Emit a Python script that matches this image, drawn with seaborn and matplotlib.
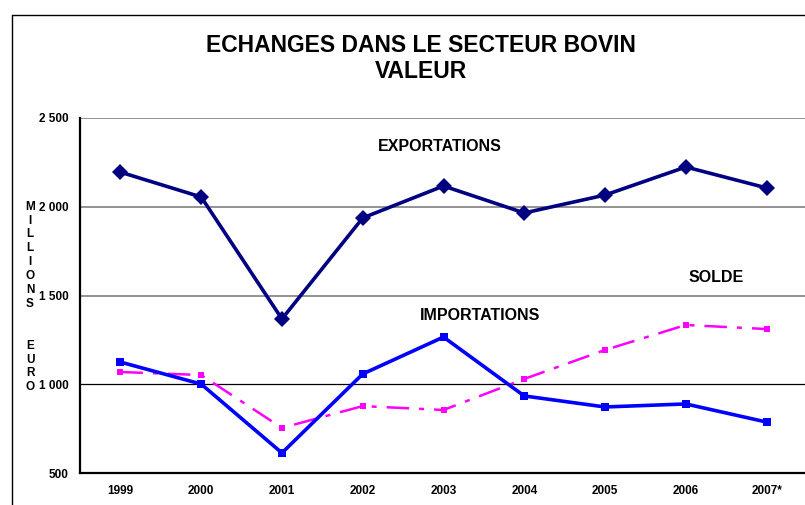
import numpy as np
import pandas as pd
import matplotlib
matplotlib.use("Agg")
import matplotlib.pyplot as plt
from matplotlib.lines import Line2D
from matplotlib.ticker import FuncFormatter
import seaborn as sns

# Données (millions d'euros)
annees = ["1999", "2000", "2001", "2002", "2003", "2004", "2005", "2006", "2007*"]
exportations = [2195, 2055, 1368, 1937, 2117, 1965, 2066, 2224, 2106]
importations = [1125, 1001, 613, 1058, 1266, 934, 872, 889, 787]
solde = [1069, 1052, 754, 877, 855, 1030, 1193, 1334, 1311]

sns.set_theme(style="white")
plt.rcParams['font.family'] = ['Liberation Sans', 'DejaVu Sans']
plt.rcParams['text.color'] = 'black'
plt.rcParams['xtick.color'] = 'black'
plt.rcParams['ytick.color'] = 'black'

pos = np.arange(len(annees))
df = pd.DataFrame({"pos": pos, "EXPORTATIONS": exportations,
                   "IMPORTATIONS": importations, "SOLDE": solde})

fig = plt.figure(figsize=(8.05, 5.05), dpi=100)
ax = fig.add_axes([80 / 805, 32 / 505, 727 / 805, 355 / 505])

# grille horizontale
for v in [1500, 2000, 2500]:
    ax.axhline(v, color="#808080", lw=1.2, zorder=1)
ax.axhline(1000, color="black", lw=0.9, zorder=1)

sns.lineplot(data=df, x="pos", y="SOLDE", ax=ax, color="#FF00FF", lw=1.8,
             linestyle=(0, (9, 4, 2, 4)), marker="s", markersize=5,
             markeredgewidth=0, zorder=3)
sns.lineplot(data=df, x="pos", y="IMPORTATIONS", ax=ax, color="#0000FF", lw=2.6,
             marker="s", markersize=6, markeredgewidth=0, zorder=4)
sns.lineplot(data=df, x="pos", y="EXPORTATIONS", ax=ax, color="#000080", lw=2.6,
             marker="D", markersize=8, markeredgewidth=0, zorder=5)

ax.set_xlim(-0.5, len(annees) - 0.5)
ax.set_ylim(500, 2500)
ax.set_xticks(pos)
ax.set_xticklabels(annees, fontsize=8.5, fontweight="bold")
ax.set_xticks(pos[:-1] + 0.5, minor=True)
ax.tick_params(axis="x", which="major", length=0, pad=9)
ax.tick_params(axis="x", which="minor", length=4, width=1, color="black", direction="out")
ax.set_yticks([500, 1000, 1500, 2000, 2500])
ax.yaxis.set_major_formatter(FuncFormatter(lambda v, p: f"{int(v):,}".replace(",", " ")))
ax.tick_params(axis="y", length=5, width=1, color="black", direction="out", labelsize=8.5, pad=3)
for lab in ax.get_yticklabels():
    lab.set_fontweight("bold")
ax.set_xlabel("")
ax.set_ylabel("")
for s in ["top", "right"]:
    ax.spines[s].set_visible(False)
for s in ["left", "bottom"]:
    ax.spines[s].set_color("black")
    ax.spines[s].set_linewidth(1.6)

# étiquettes des séries
ax.text(3.95, 2340, "EXPORTATIONS", fontsize=11.5, fontweight="bold", ha="center", va="center")
ax.text(4.45, 1385, "IMPORTATIONS", fontsize=11.5, fontweight="bold", ha="center", va="center")
ax.text(7.38, 1600, "SOLDE", fontsize=11.5, fontweight="bold", ha="center", va="center")

# titre
fig.text(421 / 805, 1 - 45 / 505, "ECHANGES DANS LE SECTEUR BOVIN", fontsize=16.5,
         fontweight="bold", ha="center", va="center")
fig.text(421 / 805, 1 - 72 / 505, "VALEUR", fontsize=16.5,
         fontweight="bold", ha="center", va="center")

# libellé vertical
fig.text(30 / 805, 1 - 297 / 505, "M\nI\nL\nL\nI\nO\nN\nS\n\n\nE\nU\nR\nO",
         fontsize=8.5, fontweight="bold", ha="center", va="center", linespacing=1.21)

# cadre
fig.add_artist(Line2D([12 / 805, 12 / 805], [0, 1 - 15 / 505], transform=fig.transFigure,
                      color="black", lw=1))
fig.add_artist(Line2D([12 / 805, 1], [1 - 15 / 505, 1 - 15 / 505], transform=fig.transFigure,
                      color="black", lw=1))

fig.savefig("out.png", dpi=100, facecolor="white")
